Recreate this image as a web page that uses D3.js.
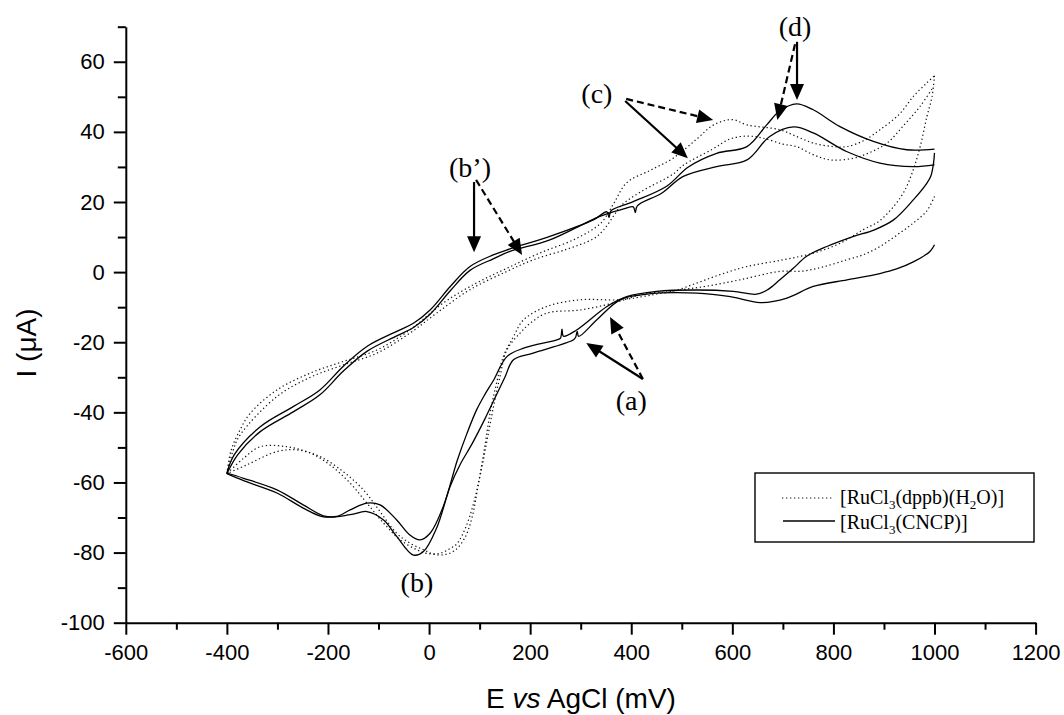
<!DOCTYPE html>
<html>
<head>
<meta charset="utf-8">
<script src="https://cdn.jsdelivr.net/npm/d3@7"></script>
<style>
  body { margin: 0; background: #fff; }
  svg { display: block; }
</style>
</head>
<body>
<svg id="chart" width="1064" height="715"></svg>
<script>
// Cyclic voltammograms: potential E (mV vs AgCl) and current I (µA), two scans per complex.

// Axis ticks
const xTicks = [-600, -400, -200, 0, 200, 400, 600, 800, 1000, 1200];
const xMinorTicks = [-500, -300, -100, 100, 300, 500, 700, 900, 1100];
const yTicks = [-100, -80, -60, -40, -20, 0, 20, 40, 60];
const yMinorTicks = [-90, -70, -50, -30, -10, 10, 30, 50, 70];

// [RuCl3(dppb)(H2O)] – anodic (upper) and cathodic (lower) branches, [E, I]
const dppbAnodic1 = [[-400,-57.5],[-392,-51],[-374,-45],[-354,-40.3],[-301,-33.6],[-235,-28.8],[-170,-25.5],[-103,-22.2],[-38,-16.5],[28,-8.8],[94,-3.1],[154,1.1],[220,5.5],[290,9.5],[340,14],[365,19.5],[391,25.5],[437,29],[483,32.5],[530,38],[563,42],[600,43.5],[629,42],[694,40.6],[730,38.5],[760,36.8],[800,35.8],[826,35.8],[860,37.5],[892,40.6],[930,45],[958,50.1],[985,54],[1000,56]];
const dppbAnodic2 = [[-400,-57.5],[-388,-51],[-374,-46.5],[-301,-35.5],[-235,-30],[-170,-26.5],[-103,-23.1],[-38,-17.4],[15,-11.7],[81,-5],[154,0.2],[206,3.5],[272,6.5],[325,9.5],[345,12],[365,16],[380,19],[420,23],[483,28],[503,30.5],[560,35],[596,38],[630,38.8],[661,38.2],[700,36.5],[727,35.8],[760,33.5],[794,32],[840,32.5],[870,34],[906,36.8],[940,42],[971,47.2],[998,52.9]];
const dppbCathodic1 = [[1000,56],[995,50],[985,44.4],[972,36],[958,29.2],[940,23],[919,18.7],[890,14.5],[859,12.1],[810,8],[760,5.4],[700,3.5],[629,1.6],[580,-0.5],[530,-3.1],[480,-5.5],[431,-6],[365,-8.8],[299,-10.8],[233,-11.7],[200,-14.6],[180,-17.4],[154,-22.2],[140,-30],[128,-38],[116,-47],[104,-56],[88,-66],[72,-73],[55,-77.5],[42,-78.8],[22,-80.2],[-5,-80.2],[-24,-79.2],[-57,-76.4],[-90,-71.6],[-123,-65.9],[-156,-60.2],[-196,-55],[-235,-51.6],[-282,-49.8],[-334,-49.8],[-367,-53.1],[-400,-57.5]];
const dppbCathodic2 = [[1000,21.6],[985,17.5],[958,14],[925,10.5],[892,7.3],[860,5],[826,3.5],[780,1.5],[740,0.3],[694,0.2],[615,-2.2],[550,-4],[497,-5.1],[430,-6.8],[378,-7.9],[299,-7.9],[233,-9.8],[187,-13.6],[167,-18.4],[147,-24.1],[133,-32],[121,-40],[110,-50],[98,-60],[85,-70],[70,-76],[50,-79.5],[30,-80.6],[10,-80.5],[-11,-79.2],[-38,-77.3],[-64,-74.5],[-97,-68.3],[-130,-62.1],[-170,-56.9],[-216,-52.6],[-262,-50.7],[-301,-51.2],[-361,-55],[-400,-57.5]];

// [RuCl3(CNCP)] – anodic and cathodic branches, [E, I]
const cncpAnodic1 = [[-400,-57.3],[-385,-52],[-334,-44.1],[-268,-38.3],[-216,-33.6],[-170,-26.9],[-123,-21.2],[-64,-16.9],[-31,-14.6],[2,-10.8],[42,-4.1],[81,1.6],[127,4.9],[160,6.6],[239,10.2],[325,14.9],[352,17.2],[356,15.6],[360,17.5],[404,20.1],[470,24.5],[513,30],[569,33.9],[629,35.8],[668,42],[694,46],[727,48],[760,46.3],[813,41.5],[879,37.3],[945,34.9],[1000,35.1]];
const cncpAnodic2 = [[-400,-57.5],[-378,-52],[-334,-45.5],[-268,-39.8],[-216,-35],[-170,-28.3],[-123,-22.6],[-64,-18.2],[-31,-15.8],[2,-12],[42,-5.3],[81,0.5],[127,3.8],[160,5.9],[239,9.2],[338,15.9],[380,17.8],[404,18.6],[408,17],[412,18.9],[460,22.5],[503,27.3],[569,30.1],[629,32],[674,38.7],[721,41.4],[760,39.7],[826,34.4],[892,31.1],[958,30.1],[1000,30.6]];
const cncpCathodic1 = [[1000,34],[998,31],[993,27.5],[985,25.4],[958,20.6],[919,14.9],[880,12],[840,10.2],[787,7.3],[747,4.5],[720,1],[694,-2.2],[670,-5],[648,-6.3],[602,-5.5],[530,-5.1],[450,-5.5],[391,-7],[352,-9.8],[292,-16.5],[266,-18.3],[263,-16.3],[260,-18.8],[253,-19.3],[187,-21.7],[154,-24.1],[127,-31],[110,-35],[94,-39.3],[75,-46],[56,-53.6],[28,-66.9],[2,-74.5],[-18,-76.4],[-38,-75],[-64,-70.7],[-97,-66.4],[-123,-65.9],[-156,-67.8],[-183,-69.7],[-209,-69.5],[-249,-66.4],[-301,-62.1],[-367,-58.8],[-400,-57.3]];
const cncpCathodic2 = [[1000,7.8],[991,5.9],[958,2.9],[925,0.9],[892,-0.4],[827,-2.2],[760,-4.1],[708,-7.4],[655,-8.7],[596,-7],[530,-6],[431,-6.3],[378,-7.9],[332,-13.6],[296,-18.3],[293,-16.9],[290,-18.6],[286,-19.3],[206,-23.1],[167,-25],[150,-30],[130,-36],[110,-42],[85,-49],[61,-55],[42,-61],[15,-73],[-11,-79.7],[-31,-80.7],[-64,-75.4],[-90,-70.7],[-123,-68.3],[-156,-69.2],[-209,-69.8],[-249,-67.3],[-301,-63],[-367,-59.5],[-400,-57.5]];

// Peak labels and their pointer arrows, in data units: [E, I]
const peakLabels = [
  { text: "(a)",  at: [400, -39.3] },
  { text: "(b)",  at: [-24, -91.2] },
  { text: "(b’)", at: [81, 27.1] },
  { text: "(c)",  at: [332, 48.3] },
  { text: "(d)",  at: [724, 67.4] }
];
const peakArrows = [
  { from: [423, -30.5], to: [311, -20.2], dashed: false },
  { from: [423, -30.5], to: [358, -12.8], dashed: true },
  { from: [89, 25.7],   to: [89, 5.7],    dashed: false },
  { from: [93, 26.3],   to: [184, 4.9],   dashed: true },
  { from: [388, 48.8],  to: [512, 32.5],  dashed: false },
  { from: [390, 49.4],  to: [562, 43.4],  dashed: true },
  { from: [728, 65.7],  to: [728, 49.1],  dashed: false },
  { from: [724, 65],    to: [689, 43.4],  dashed: true }
];

const svg = d3.select("#chart");
svg.append("rect").attr("width", 1064).attr("height", 715).attr("fill", "#fff");

const x = d3.scaleLinear().domain([-600, 1200]).range([125.8, 1035.6]);
const y = d3.scaleLinear().domain([-100, 70]).range([622.7, 26.7]);

const sansFont = "'Liberation Sans', Arial, sans-serif";
const serifFont = "'Liberation Serif', 'Times New Roman', serif";

// Axes
function styleAxis(g) {
  g.selectAll("path.domain").attr("stroke", "#000").attr("stroke-width", 2);
  g.selectAll(".tick line").attr("stroke", "#000").attr("stroke-width", 2);
  g.selectAll(".tick text").attr("fill", "#000").attr("font-family", sansFont).attr("font-size", 22);
}

const xAxisMinor = svg.append("g").attr("transform", `translate(0,${y(-100)})`)
  .call(d3.axisBottom(x).tickValues(xMinorTicks).tickSize(7).tickSizeOuter(0).tickFormat(""));
xAxisMinor.select("path.domain").remove();
styleAxis(xAxisMinor);

const xAxis = svg.append("g").attr("transform", `translate(0,${y(-100)})`)
  .call(d3.axisBottom(x).tickValues(xTicks).tickSize(12).tickSizeOuter(0).tickPadding(10).tickFormat(d => String(d)));
styleAxis(xAxis);

const yAxisMinor = svg.append("g").attr("transform", `translate(${x(-600)},0)`)
  .call(d3.axisLeft(y).tickValues(yMinorTicks).tickSize(8).tickSizeOuter(0).tickFormat(""));
yAxisMinor.select("path.domain").remove();
styleAxis(yAxisMinor);

const yAxis = svg.append("g").attr("transform", `translate(${x(-600)},0)`)
  .call(d3.axisLeft(y).tickValues(yTicks).tickSize(12).tickSizeOuter(0).tickPadding(9).tickFormat(d => String(d)));
styleAxis(yAxis);

// Axis titles
const xTitle = svg.append("text")
  .attr("x", 581).attr("y", 708)
  .attr("text-anchor", "middle")
  .attr("font-family", sansFont).attr("font-size", 28).attr("fill", "#000");
xTitle.append("tspan").text("E ");
xTitle.append("tspan").attr("font-style", "italic").text("vs");
xTitle.append("tspan").text(" AgCl (mV)");

svg.append("text")
  .attr("transform", "translate(36,343) rotate(-90)")
  .attr("text-anchor", "middle")
  .attr("font-family", sansFont).attr("font-size", 28).attr("fill", "#000")
  .text("I (μA)");

// Voltammogram traces
const line = d3.line()
  .x(d => x(d[0]))
  .y(d => y(d[1]))
  .curve(d3.curveCatmullRom.alpha(0.5));

const dottedSeries = [dppbAnodic1, dppbAnodic2, dppbCathodic1, dppbCathodic2];
const solidSeries = [cncpAnodic1, cncpAnodic2, cncpCathodic1, cncpCathodic2];

svg.append("g").selectAll("path").data(dottedSeries).join("path")
  .attr("d", line)
  .attr("fill", "none")
  .attr("stroke", "#111")
  .attr("stroke-width", 1.2)
  .attr("stroke-dasharray", "1.3,2.7");

svg.append("g").selectAll("path").data(solidSeries).join("path")
  .attr("d", line)
  .attr("fill", "none")
  .attr("stroke", "#000")
  .attr("stroke-width", 1.3);

// Peak annotation arrows
const headLen = 16, headHalf = 7;
const arrows = svg.append("g");
peakArrows.forEach(a => {
  const x0 = x(a.from[0]), y0 = y(a.from[1]);
  const x1 = x(a.to[0]), y1 = y(a.to[1]);
  const len = Math.hypot(x1 - x0, y1 - y0);
  const ux = (x1 - x0) / len, uy = (y1 - y0) / len;
  const bx = x1 - ux * headLen, by = y1 - uy * headLen;
  arrows.append("line")
    .attr("x1", x0).attr("y1", y0).attr("x2", bx + ux * 2).attr("y2", by + uy * 2)
    .attr("stroke", "#000").attr("stroke-width", 2.2)
    .attr("stroke-dasharray", a.dashed ? "7,4" : null);
  arrows.append("path")
    .attr("d", `M${x1},${y1}L${bx - uy * headHalf},${by + ux * headHalf}L${bx + uy * headHalf},${by - ux * headHalf}Z`)
    .attr("fill", "#000");
});

// Peak labels
svg.append("g").selectAll("text").data(peakLabels).join("text")
  .attr("x", d => x(d.at[0])).attr("y", d => y(d.at[1]))
  .attr("text-anchor", "middle")
  .attr("font-family", serifFont).attr("font-size", 28).attr("fill", "#000")
  .text(d => d.text);

// Legend
const legend = svg.append("g");
legend.append("rect")
  .attr("x", 755).attr("y", 473).attr("width", 279).attr("height", 69)
  .attr("fill", "#fff").attr("stroke", "#000").attr("stroke-width", 1.4);
legend.append("line")
  .attr("x1", 782).attr("x2", 832).attr("y1", 498).attr("y2", 498)
  .attr("stroke", "#111").attr("stroke-width", 1.2).attr("stroke-dasharray", "1.3,2.7");
legend.append("line")
  .attr("x1", 783).attr("x2", 835).attr("y1", 521).attr("y2", 521)
  .attr("stroke", "#000").attr("stroke-width", 1.3);

// Each label is a list of runs; a run with sub:true is set as a subscript
function legendLabel(yPos, runs) {
  const t = legend.append("text")
    .attr("x", 840).attr("y", yPos)
    .attr("font-family", serifFont).attr("font-size", 20).attr("fill", "#000");
  let lowered = false;
  runs.forEach(r => {
    const span = t.append("tspan").text(r.t);
    if (r.sub) {
      span.attr("font-size", 13).attr("dy", 5);
      lowered = true;
    } else if (lowered) {
      span.attr("dy", -5);
      lowered = false;
    }
  });
}
legendLabel(504, [{ t: "[RuCl" }, { t: "3", sub: true }, { t: "(dppb)(H" }, { t: "2", sub: true }, { t: "O)]" }]);
legendLabel(529, [{ t: "[RuCl" }, { t: "3", sub: true }, { t: "(CNCP)]" }]);
</script>
</body>
</html>
